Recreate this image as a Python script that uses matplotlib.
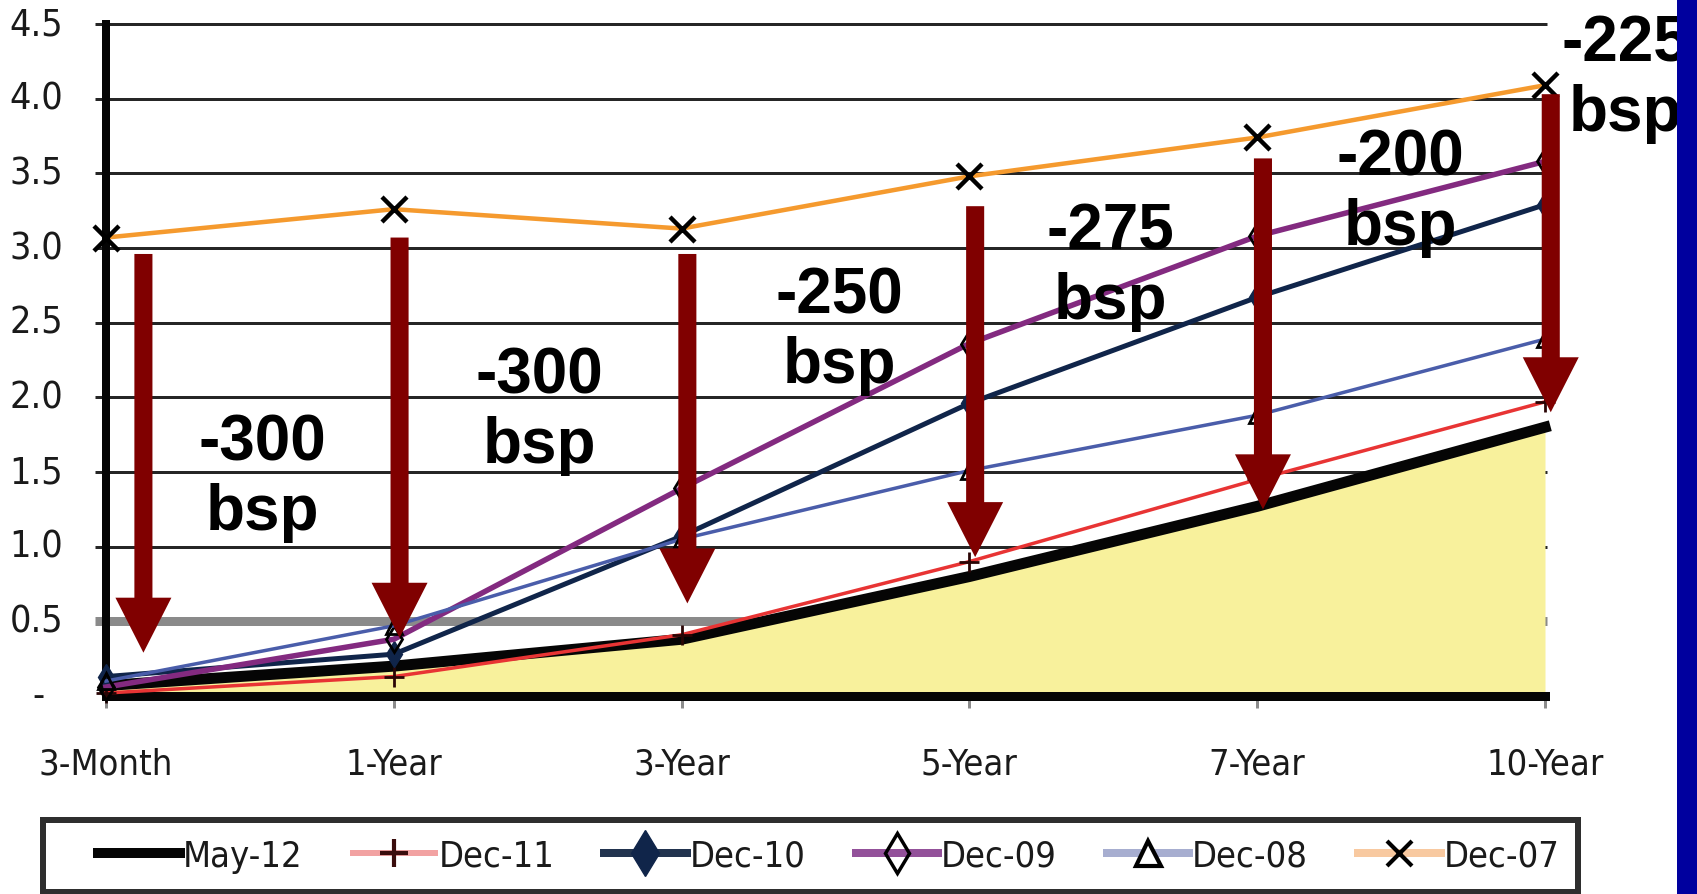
import matplotlib
matplotlib.use("Agg")
import matplotlib.pyplot as plt
from matplotlib.lines import Line2D
from matplotlib.patches import Rectangle
import numpy as np

# Treasury yield curves (%) by maturity
categories = ["3-Month", "1-Year", "3-Year", "5-Year", "7-Year", "10-Year"]
series_names = ["May-12", "Dec-11", "Dec-10", "Dec-09", "Dec-08", "Dec-07"]
may12 = [0.07, 0.20, 0.38, 0.80, 1.27, 1.80]
dec11 = [0.02, 0.13, 0.41, 0.90, 1.45, 1.97]
dec10 = [0.13, 0.28, 1.07, 1.96, 2.67, 3.29]
dec09 = [0.06, 0.38, 1.39, 2.36, 3.08, 3.58]
dec08 = [0.10, 0.47, 1.05, 1.51, 1.88, 2.39]
dec07 = [3.07, 3.26, 3.13, 3.48, 3.74, 4.09]

y_ticks = [0.0, 0.5, 1.0, 1.5, 2.0, 2.5, 3.0, 3.5, 4.0, 4.5]
y_tick_labels = ["-", "0.5", "1.0", "1.5", "2.0", "2.5", "3.0", "3.5", "4.0", "4.5"]

# Drop arrows from the Dec-07 curve toward the May-12 curve
arrow_x = [0.13, 1.02, 2.02, 3.02, 4.02, 5.02]
arrow_top = [2.96, 3.07, 2.96, 3.28, 3.60, 4.03]
arrow_tip = [0.29, 0.39, 0.62, 0.93, 1.25, 1.90]
change_labels = ["-300\nbsp", "-300\nbsp", "-250\nbsp", "-275\nbsp", "-200\nbsp", "-225\nbsp"]
label_x = [0.545, 1.505, 2.547, 3.49, 4.497, 5.278]
# baseline of the "bsp" line
label_y = [1.12, 1.57, 2.10, 2.53, 3.03, 3.79]

W, H, DPI = 1697, 895, 100


def px(v):
    """pixels -> points"""
    return v * 72.0 / DPI


narrow = ["DejaVu Sans", "Liberation Sans"]
bold_family = ["Liberation Sans", "DejaVu Sans"]
STRETCH = "condensed"

fig = plt.figure(figsize=(W / DPI, H / DPI), dpi=DPI)
fig.patch.set_facecolor("white")
ax = fig.add_axes([106 / W, 1 - 697 / H, (1545 - 106) / W, (697 - 25) / H])
ax.set_facecolor("white")

x = np.arange(len(categories))
ax.set_xlim(0, len(categories) - 1)
ax.set_ylim(0, 4.5)

# horizontal grid (the 0.5 line is drawn grey and heavier)
span = 1545 - 106
grid_colors = ["#8a8a8a" if v == 0.5 else "#262626" for v in y_ticks[1:]]
grid_widths = [px(9) if v == 0.5 else px(3) for v in y_ticks[1:]]
ax.hlines(y_ticks[1:], -11 / span, 1 + 2 / span, transform=ax.get_yaxis_transform(),
          colors=grid_colors, linewidths=grid_widths, clip_on=False, zorder=0.5)

# spines
for s in ("top", "right"):
    ax.spines[s].set_visible(False)
ax.spines["left"].set_linewidth(px(8))
ax.spines["left"].set_color("#050505")
ax.spines["bottom"].set_linewidth(px(9))
ax.spines["bottom"].set_color("#050505")
ax.spines["left"].set_zorder(2.5)
ax.spines["bottom"].set_zorder(2.5)

# y tick labels
ax.set_yticks([])
for v, lab in zip(y_ticks, y_tick_labels):
    off = -px(61) if lab == "-" else -px(43)
    ax.annotate(lab, xy=(0, v), xycoords=ax.get_yaxis_transform(),
                xytext=(off, 0), textcoords="offset points",
                ha="right", va="center", fontsize=27, family=narrow,
                fontstretch=STRETCH, color="#1a1a1a", annotation_clip=False)

# x ticks
ax.set_xticks(x)
ax.set_xticklabels(categories, fontsize=26, family=narrow, fontstretch=STRETCH,
                   color="#1a1a1a")
ax.tick_params(axis="x", length=px(12), width=px(3), color="#8c8c8c", pad=28)

# May-12 area
ax.fill_between(x, 0, may12, color="#F8F19C", lw=0, zorder=1)

ax.plot(x, may12, color="#050505", lw=px(11), solid_joinstyle="round", zorder=3,
        clip_on=False)
ax.plot(x, dec11, color="#E83434", lw=px(3.5), marker="+", ms=14, mew=2,
        mec="#2a0505", zorder=3.1, clip_on=False)
ax.plot(x, dec10, color="#10254A", lw=px(5), marker="d", ms=13, mfc="#10254A",
        mec="#10254A", zorder=3.2, clip_on=False)
ax.plot(x, dec09, color="#832A80", lw=px(5.5), marker="d", ms=13, mfc="none",
        mec="black", mew=2, zorder=3.3, clip_on=False)
ax.plot(x, dec08, color="#4A5DAA", lw=px(3.5), marker="^", ms=12, mfc="none",
        mec="black", mew=2, zorder=3.4, clip_on=False)
ax.plot(x, dec07, color="#F59A2E", lw=px(4.5), marker="x", ms=18, mew=3.2,
        mec="black", zorder=3.5, clip_on=False)

# arrows
for xa, t0, t1 in zip(arrow_x, arrow_top, arrow_tip):
    ax.annotate("", xy=(xa, t1), xytext=(xa, t0),
                arrowprops=dict(arrowstyle="simple,head_length=%.1f,head_width=%.1f,tail_width=%.1f"
                                % (px(55), px(56), px(18)),
                                mutation_scale=1, fc="#800000", ec="none",
                                shrinkA=0, shrinkB=0),
                zorder=5, annotation_clip=False)

# change labels
for lx, ly, lab in zip(label_x, label_y, change_labels):
    ax.text(lx, ly, lab, ha="center", va="baseline", multialignment="center",
            fontsize=46, fontweight="bold", family=bold_family, color="black",
            zorder=6, clip_on=False)

# legend
handles = [
    Line2D([], [], color="#050505", lw=px(10)),
    Line2D([], [], color="#F2A2A2", lw=px(6), marker="+", ms=20, mew=3, mec="#3a0d0d"),
    Line2D([], [], color="#22344F", lw=px(8), marker="d", ms=23, mfc="#10254A", mec="#10254A"),
    Line2D([], [], color="#93519A", lw=px(8), marker="d", ms=20, mfc="none", mec="black", mew=2.5),
    Line2D([], [], color="#A7AED0", lw=px(8), marker="^", ms=18, mfc="white", mec="black", mew=3),
    Line2D([], [], color="#F8C9A0", lw=px(8), marker="x", ms=18, mew=3, mec="black"),
]
fig.add_artist(Rectangle((43 / W, 1 - 893 / H), (1578 - 43) / W, (893 - 821) / H,
                         transform=fig.transFigure, fc="white", ec="#2e2e2e",
                         lw=px(6), zorder=2))
fig.legend(handles, series_names, loc="center left",
           bbox_to_anchor=(98 / W, 1 - 857 / H), bbox_transform=fig.transFigure,
           ncol=6, frameon=False, prop=dict(family=narrow, size=26, stretch=STRETCH),
           labelcolor="#1a1a1a", handlelength=2.28, handletextpad=0.08,
           columnspacing=1.39, borderpad=0, borderaxespad=0)

# right-hand band
fig.add_artist(Rectangle((1677 / W, 0), 20 / W, 1, transform=fig.transFigure,
                         fc="#00009E", ec="none", zorder=10))

fig.savefig("out.png", dpi=DPI)
